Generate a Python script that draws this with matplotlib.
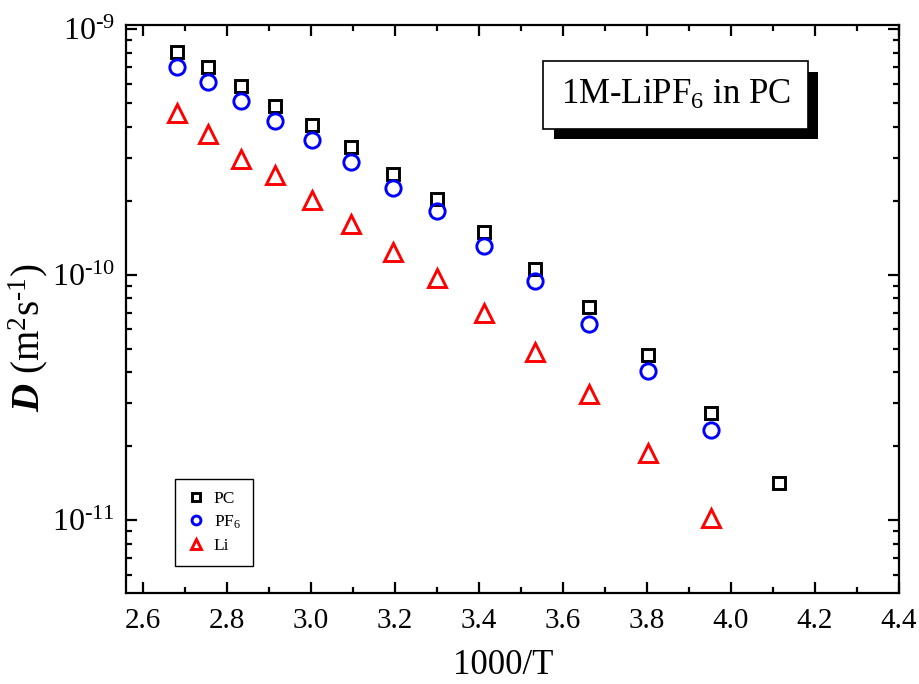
import numpy as np
import matplotlib
matplotlib.use("Agg")
from matplotlib import pyplot as plt
from matplotlib import patheffects
from matplotlib.ticker import (FixedLocator, FormatStrFormatter, FuncFormatter,
                               LogLocator, MultipleLocator, NullFormatter)

# 1000/T values
inv_t = [2.681, 2.755, 2.833, 2.915, 3.003, 3.096, 3.195,
         3.300, 3.413, 3.534, 3.663, 3.802, 3.953, 4.115]

# self-diffusion coefficients (m^2/s)
d_pc = [8.06e-10, 7.0e-10, 5.86e-10, 4.86e-10, 4.06e-10, 3.31e-10, 2.57e-10,
        2.03e-10, 1.49e-10, 1.05e-10, 7.38e-11, 4.70e-11, 2.73e-11, 1.42e-11]
d_pf6 = [7.0e-10, 6.08e-10, 5.09e-10, 4.22e-10, 3.53e-10, 2.87e-10, 2.25e-10,
         1.81e-10, 1.31e-10, 9.41e-11, 6.28e-11, 4.04e-11, 2.33e-11]
d_li = [4.55e-10, 3.73e-10, 2.95e-10, 2.54e-10, 2.01e-10, 1.61e-10, 1.24e-10,
        9.68e-11, 6.97e-11, 4.83e-11, 3.26e-11, 1.88e-11, 1.02e-11]

# decades labelled on the y axis
y_decades = [1e-11, 1e-10, 1e-9]

plt.rcParams["font.family"] = ["Liberation Serif", "DejaVu Serif"]
plt.rcParams["mathtext.fontset"] = "custom"
plt.rcParams["mathtext.rm"] = "Liberation Serif"
plt.rcParams["mathtext.it"] = "Liberation Serif:italic"
plt.rcParams["mathtext.bf"] = "Liberation Serif:bold:italic"

HYPHEN = "\u2010"


def log_label(val, pos):
    # Origin style: 10 with a short hyphen exponent
    exp = int(round(np.log10(val)))
    if exp < 0:
        return "10$^{" + HYPHEN + str(abs(exp)) + "}$"
    return "10$^{%d}$" % exp


def main():
    fig = plt.figure(figsize=(9.2, 6.84), dpi=100)
    ax = fig.add_axes([0.137, 0.133, 0.840, 0.830])

    mew = 2.1
    ax.plot(inv_t, d_pc, ls="none", marker="s", ms=8.8, mfc="none",
            mec="black", mew=mew, label="PC")
    ax.plot(inv_t[:len(d_pf6)], d_pf6, ls="none", marker="o", ms=11, mfc="none",
            mec="#0000ff", mew=mew, label="PF$_6$")
    ax.plot(inv_t[:len(d_li)], d_li, ls="none", marker="^", ms=12.5, mfc="none",
            mec="#ff0000", mew=mew, label="Li")

    ax.set_yscale("log")
    ax.set_xlim(2.56, 4.4)
    ax.set_ylim(10 ** -11.297, 10 ** -8.984)

    ax.xaxis.set_major_locator(MultipleLocator(0.2))
    ax.xaxis.set_minor_locator(MultipleLocator(0.1))
    ax.xaxis.set_major_formatter(FormatStrFormatter("%.1f"))
    ax.yaxis.set_major_locator(FixedLocator(y_decades))
    ax.yaxis.set_minor_locator(LogLocator(base=10, subs=np.arange(2, 10), numticks=20))
    ax.yaxis.set_major_formatter(FuncFormatter(log_label))
    ax.yaxis.set_minor_formatter(NullFormatter())

    ax.tick_params(which="both", direction="in", top=True, right=True, width=1.6)
    ax.tick_params(axis="x", labelsize=21, pad=11)
    ax.tick_params(axis="y", labelsize=23, pad=8)
    ax.tick_params(which="major", length=8)
    ax.tick_params(which="minor", length=4)
    for sp in ax.spines.values():
        sp.set_linewidth(1.6)

    ax.set_xlabel("1000/T", fontsize=25)
    ax.xaxis.set_label_coords(0.488, -0.098)
    ax.set_ylabel("$\\mathbf{D}$ (m$^2$s$^{" + HYPHEN + "1}$)", fontsize=28)
    ax.yaxis.set_label_coords(-0.098, 0.45)

    # title box with a solid drop shadow
    title = ax.text(0.711, 0.877, "1M-LiPF$_6$ in PC", transform=ax.transAxes,
                    fontsize=25, ha="center", va="center",
                    bbox=dict(boxstyle="square,pad=0.5", fc="white", ec="black", lw=1.2))
    title.get_bbox_patch().set_path_effects([
        patheffects.SimplePatchShadow(offset=(7.5, -7.5), shadow_rgbFace="black", alpha=1.0),
        patheffects.Normal(),
    ])

    leg = ax.legend(loc="lower left", bbox_to_anchor=(0.064, 0.048), fontsize=12.5,
                    markerscale=0.58, handletextpad=0.5, labelspacing=0.38,
                    borderpad=0.7, borderaxespad=0, fancybox=False, framealpha=1,
                    handlelength=1.0)
    leg.get_frame().set_edgecolor("black")
    leg.get_frame().set_linewidth(1.0)

    fig.savefig("out.png", dpi=100)


if __name__ == "__main__":
    main()
